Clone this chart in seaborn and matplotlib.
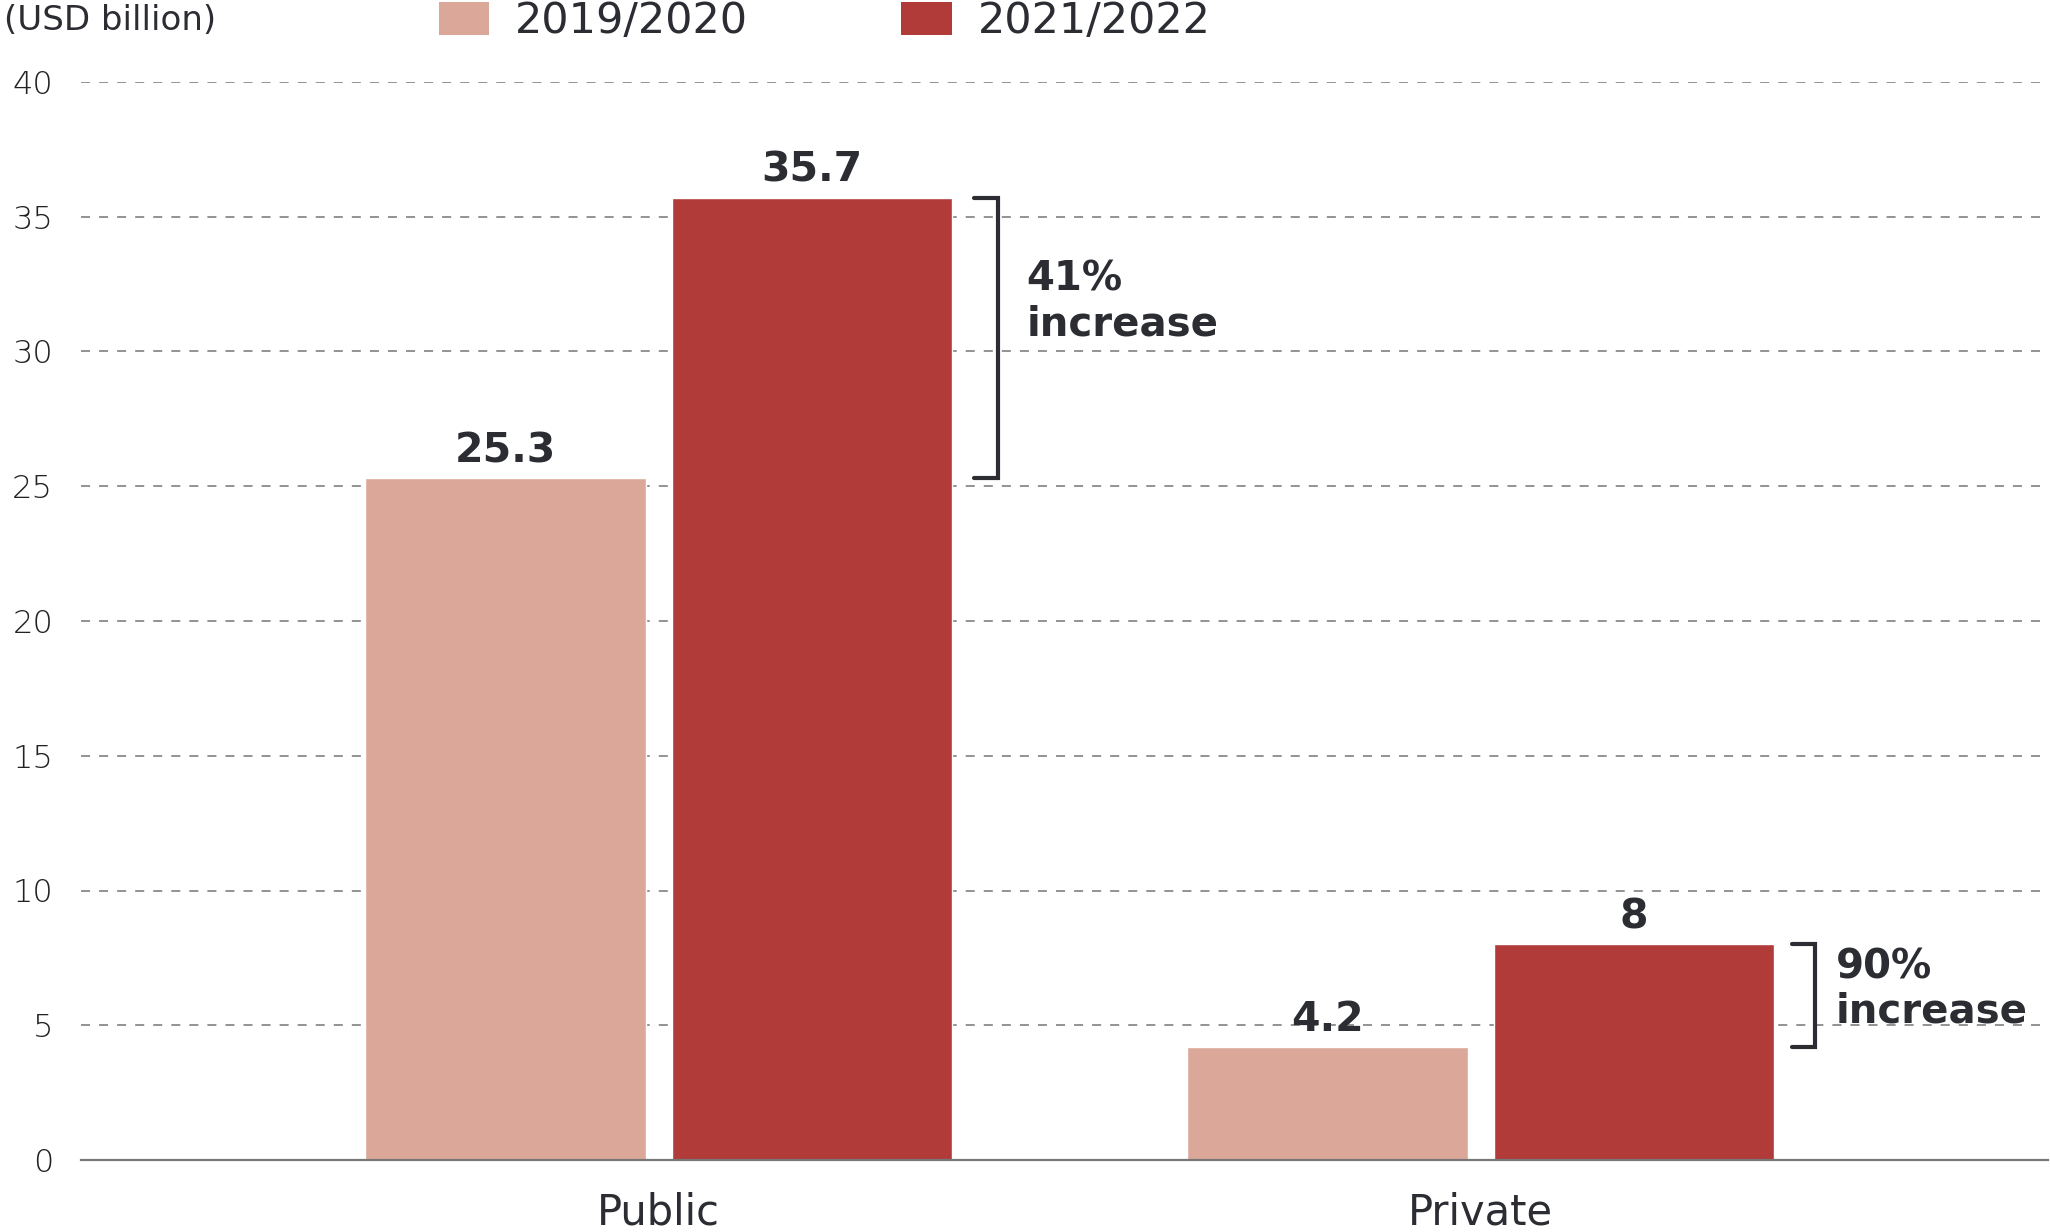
import numpy as np
import pandas as pd
import matplotlib
matplotlib.use("Agg")
import matplotlib.pyplot as plt
from matplotlib.patches import Patch
import seaborn as sns

# ---- data ----
categories = ["Public", "Private"]
periods = ["2019/2020", "2021/2022"]
values_2019_2020 = [25.3, 4.2]
values_2021_2022 = [35.7, 8.0]
value_labels_2019_2020 = ["25.3", "4.2"]
value_labels_2021_2022 = ["35.7", "8"]
increase_labels = ["41%\nincrease", "90%\nincrease"]
y_ticks = [0, 5, 10, 15, 20, 25, 30, 35, 40]
unit_label = "(USD billion)"

# ---- styling ----
LIGHT = "#DBA798"
DARK = "#B03B38"
TEXT = "#2B2D33"
GRID = "#8A8A8A"

sns.set_theme(style="white")
plt.rcParams["font.family"] = ["DejaVu Sans"]

df = pd.DataFrame({
    "category": categories * 2,
    "period": [periods[0]] * 2 + [periods[1]] * 2,
    "value": values_2019_2020 + values_2021_2022,
})

fig = plt.figure(figsize=(20.5, 12.32), dpi=100)
ax = fig.add_axes([81 / 2050, 72 / 1232, (2048 - 81) / 2050, (1160 - 82) / 1232])

sns.barplot(data=df, x="category", y="value", hue="period", order=categories,
            hue_order=periods, palette=[LIGHT, DARK], width=0.746, gap=0.086,
            saturation=1, legend=False, ax=ax, zorder=3)

ax.set_ylim(0, 40)
ax.set_xlim(-0.703, 1.69)
ax.set_yticks(y_ticks)
ax.set_yticklabels([str(t) for t in y_ticks])
ax.set_xlabel("")
ax.set_ylabel("")

# grid
for t in y_ticks[1:]:
    ax.axhline(t, color=GRID, lw=1.3, ls=(0, (5, 5)), zorder=1)

for s in ["top", "right", "left"]:
    ax.spines[s].set_visible(False)
ax.spines["bottom"].set_color("#777777")
ax.spines["bottom"].set_linewidth(1.6)
ax.spines["bottom"].set_zorder(4)

ax.tick_params(axis="y", length=0, pad=20, labelsize=23, labelcolor="#222222")
ax.tick_params(axis="x", length=0, pad=23, labelsize=30, labelcolor=TEXT)
for lab in ax.get_yticklabels():
    lab.set_fontweight("light")

# value labels
conts = ax.containers
ax.bar_label(conts[0], labels=value_labels_2019_2020, padding=5,
             fontsize=29.5, fontweight="bold", color=TEXT)
ax.bar_label(conts[1], labels=value_labels_2021_2022, padding=5,
             fontsize=29.5, fontweight="bold", color=TEXT)

# brackets
tick_off = [0.027, 0.022]
vert_off = [0.056, 0.049]
text_off = [0.034, 0.026]
text_drop = [2.3, 0.1]
for i, bar in enumerate(conts[1].patches):
    x_right = bar.get_x() + bar.get_width()
    top = values_2021_2022[i]
    bottom = values_2019_2020[i]
    x0 = x_right + tick_off[i]
    x1 = x_right + vert_off[i]
    ax.plot([x0, x1, x1, x0], [top, top, bottom, bottom], color=TEXT, lw=3,
            solid_joinstyle="miter", clip_on=False, zorder=5)
    ax.text(x1 + text_off[i], top - text_drop[i],
            increase_labels[i], fontsize=29, fontweight="bold", color=TEXT,
            va="top", ha="left", linespacing=1.15)

# unit label
fig.text(4 / 2050, 1 - 21 / 1232, unit_label, fontsize=24.5, color=TEXT,
         va="center", ha="left")

# legend
handles = [Patch(facecolor=LIGHT, edgecolor="none"),
           Patch(facecolor=DARK, edgecolor="none")]
leg = fig.legend(handles, periods, loc="center left",
                 bbox_to_anchor=(439 / 2050, 1 - 21 / 1232), ncol=2,
                 frameon=False, fontsize=31, handlelength=1.17, handleheight=0.8,
                 handletextpad=0.6, columnspacing=3.55, borderpad=0,
                 borderaxespad=0)
for t in leg.get_texts():
    t.set_color(TEXT)

fig.savefig("out.png", dpi=100)
